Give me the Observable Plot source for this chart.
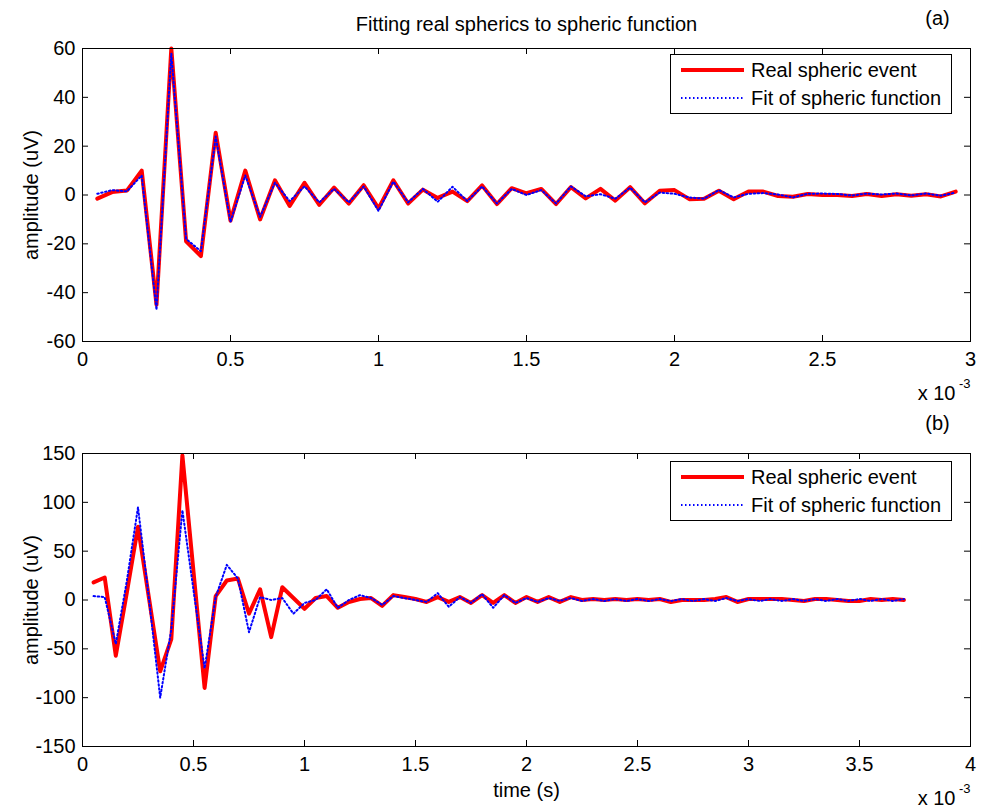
<!DOCTYPE html>
<html>
<head>
<meta charset="utf-8">
<script src="https://cdn.jsdelivr.net/npm/d3@7"></script>
<script src="https://cdn.jsdelivr.net/npm/@observablehq/plot@0.6"></script>
<style>
  html, body { margin: 0; padding: 0; background: #fff; }
  #root { position: relative; width: 981px; height: 811px; background: #fff; font-family: "Liberation Sans", Arial, sans-serif; overflow: hidden; }
  .panel { position: absolute; left: 0; }
  .legend { position: absolute; background: #fff; border: 1px solid #000; box-sizing: border-box; font-size: 20px; color: #000; }
  .legend .row { position: absolute; left: 0; height: 24px; width: 280px; white-space: nowrap; }
  .legend svg { position: absolute; left: 9px; top: 0; }
  .legend span { position: absolute; left: 80px; top: 0; line-height: 24px; }
</style>
</head>
<body>
<div id="root"></div>
<script>
// ---------- data (time in units of 1e-3 s) ----------
const tTop = [0.05,0.10,0.15,0.20,0.25,0.30,0.35,0.40,0.45,0.50,0.55,0.60,0.65,0.70,0.75,0.80,0.85,0.90,0.95,1.00,
  1.05,1.10,1.15,1.20,1.25,1.30,1.35,1.40,1.45,1.50,1.55,1.60,1.65,1.70,1.75,1.80,1.85,1.90,1.95,2.00,
  2.05,2.10,2.15,2.20,2.25,2.30,2.35,2.40,2.45,2.50,2.55,2.60,2.65,2.70,2.75,2.80,2.85,2.90,2.95];
const realTop = [-1.5,1.2,1.8,10,-45,60,-19,-25,25.5,-10.5,10,-10,6,-4.5,5,-4,3,-3.5,4,-5.5,
  6,-3.5,2.2,-1.2,1.4,-2.5,3.9,-3.7,2.8,0.7,2.5,-3.7,3.2,-1.4,2.5,-2.3,3.2,-3.4,1.7,2.0,
  -1.7,-1.5,1.7,-1.7,1.4,1.4,-0.4,-0.7,0.4,0,0,-0.4,0.4,-0.4,0.3,-0.3,0.3,-0.6,1.4];
const fitTop = [0.5,2,1.5,8,-47,58,-18,-23,24,-11,8,-9,5,-2.5,3.5,-3,2.5,-3,3.5,-6.5,
  5.5,-3,2.5,-2.8,3.4,-2.5,3.5,-3.5,2.5,0,2,-3.5,3.5,-0.5,0.3,-1.5,3,-3,1,0.5,
  -1,-1.5,2,-1,0.5,0.8,0.2,-1,0.5,0.6,0.4,-0.2,0.6,0.2,0.6,-0.2,0.6,-0.3,1];

const tBottom = [0.05,0.10,0.15,0.20,0.25,0.30,0.35,0.40,0.45,0.50,0.55,0.60,0.65,0.70,0.75,0.80,0.85,0.90,0.95,1.00,
  1.05,1.10,1.15,1.20,1.25,1.30,1.35,1.40,1.45,1.50,1.55,1.60,1.65,1.70,1.75,1.80,1.85,1.90,1.95,2.00,
  2.05,2.10,2.15,2.20,2.25,2.30,2.35,2.40,2.45,2.50,2.55,2.60,2.65,2.70,2.75,2.80,2.85,2.90,2.95,3.00,
  3.05,3.10,3.15,3.20,3.25,3.30,3.35,3.40,3.45,3.50,3.55,3.60,3.65,3.70];
const realBottom = [18,23,-57,8,75,1,-73,-40,148,29,-90,4,20,22,-14,11,-38,13,2,-9,
  2,4,-8,-2,1,2,-6,5,3,1,-2,3,-2,3,-3,5,-3,5,-3,3,
  -2,3,-2,3,0,1,0,1,0,1,0,1,-2,0,0,0,1,3,-2,1,
  1,1,1,0,-1,1,1,0,-1,-1,1,0,1,0];
const fitBottom = [4,3,-45,20,95,0,-100,-30,92,10,-70,3,36,22,-33,3,0,2,-14,-3,
  0,11,-8,0,5,2,-5,4,2,0,-2,7,-7,3,-3,6,-8,5,-3,2,
  -2,2,-1,2,-1,1,-1,1,-1,1,-1,1,-1,1,-1,1,-1,2,-1,1,
  -1,1,-1,1,-1,1,-1,1,-1,1,-1,1,-1,1];

const xTicksTop = [0,0.5,1,1.5,2,2.5,3];
const yTicksTop = [-60,-40,-20,0,20,40,60];
const xTicksBottom = [0,0.5,1,1.5,2,2.5,3,3.5,4];
const yTicksBottom = [-150,-100,-50,0,50,100,150];

const seriesNames = ["Real spheric event", "Fit of spheric function"];
const titleText = "Fitting real spherics to spheric function";
const yLabel = "amplitude (uV)";
const xLabel = "time (s)";

const RED = "#ff0000", BLUE = "#0000ff";
const DOTS = "1.5,2.5";
const FONT = "'Liberation Sans', Arial, sans-serif";
const FS = 20;

function panel({t, real, fit, xTicks, yTicks, xDomain, yDomain, height, tag, title, xlab}) {
  const W = 981, mL = 82, mR = 11, mT = 48, mB = height - 48 - 293;
  const pw = W - mL - mR, ph = height - mT - mB;
  const tickLen = 6;
  const fmt = d => String(d);
  const realData = t.map((x, i) => ({x, y: real[i]}));
  const fitData = t.map((x, i) => ({x, y: fit[i]}));
  const mid = {lineAnchor: "middle"};
  const marks = [
    Plot.line(realData, {x: "x", y: "y", stroke: RED, strokeWidth: 4, strokeLinejoin: "round", strokeLinecap: "round"}),
    Plot.line(fitData, {x: "x", y: "y", stroke: BLUE, strokeWidth: 2, strokeDasharray: DOTS}),
    Plot.frame({stroke: "#000", strokeWidth: 1}),
    // inward ticks on all four sides
    Plot.tickX(xTicks, {x: d => d, stroke: "#000", insetTop: ph - tickLen}),
    Plot.tickX(xTicks, {x: d => d, stroke: "#000", insetBottom: ph - tickLen}),
    Plot.tickY(yTicks, {y: d => d, stroke: "#000", insetRight: pw - tickLen}),
    Plot.tickY(yTicks, {y: d => d, stroke: "#000", insetLeft: pw - tickLen}),
    Plot.axisX(xTicks, {tickSize: 0, tickPadding: 10, tickFormat: fmt, label: null, fontSize: FS}),
    Plot.axisY(yTicks, {tickSize: 0, tickPadding: 7, tickFormat: fmt, label: null, fontSize: FS}),
    Plot.text([yLabel], {...mid, frameAnchor: "left", textAnchor: "middle", rotate: -90, dx: -51, fontSize: FS}),
    Plot.text([tag], {...mid, frameAnchor: "top-right", dx: -33, dy: -30, fontSize: FS, textAnchor: "middle"}),
    Plot.text(["x 10"], {...mid, frameAnchor: "bottom-right", dx: -15, dy: 52, fontSize: FS, textAnchor: "end"}),
    Plot.text(["-3"], {...mid, frameAnchor: "bottom-right", dx: 0, dy: 42, fontSize: 13, textAnchor: "end"})
  ];
  if (title) marks.push(Plot.text([title], {...mid, frameAnchor: "top", textAnchor: "middle", dy: -24, fontSize: FS}));
  if (xlab) marks.push(Plot.text([xlab], {...mid, frameAnchor: "bottom", textAnchor: "middle", dy: 44, fontSize: FS}));
  return Plot.plot({
    width: W, height,
    marginLeft: mL, marginRight: mR, marginTop: mT, marginBottom: mB,
    x: {domain: xDomain, axis: null},
    y: {domain: yDomain, axis: null},
    style: {fontFamily: FONT, fontSize: FS + "px", background: "transparent", color: "#000", overflow: "visible"},
    marks
  });
}

function legend(root, left, top) {
  const box = document.createElement("div");
  box.className = "legend";
  Object.assign(box.style, {left: left + "px", top: top + "px", width: "282px", height: "60px"});
  const styles = [
    {stroke: RED, width: 4, dash: null},
    {stroke: BLUE, width: 2, dash: DOTS}
  ];
  seriesNames.forEach((name, i) => {
    const row = document.createElement("div");
    row.className = "row";
    row.style.top = (3 + i * 28) + "px";
    const svg = d3.create("svg").attr("width", 66).attr("height", 24);
    svg.append("line").attr("x1", 1).attr("x2", 64).attr("y1", 12).attr("y2", 12)
      .attr("stroke", styles[i].stroke).attr("stroke-width", styles[i].width)
      .attr("stroke-dasharray", styles[i].dash);
    row.appendChild(svg.node());
    const span = document.createElement("span");
    span.textContent = name;
    row.appendChild(span);
    box.appendChild(row);
  });
  root.appendChild(box);
}

const root = document.getElementById("root");

const p1 = panel({t: tTop, real: realTop, fit: fitTop, xTicks: xTicksTop, yTicks: yTicksTop,
  xDomain: [0, 3], yDomain: [-60, 60], height: 405, tag: "(a)", title: titleText, xlab: null});
const d1 = document.createElement("div"); d1.className = "panel"; d1.style.top = "0px";
d1.appendChild(p1); root.appendChild(d1);

const p2 = panel({t: tBottom, real: realBottom, fit: fitBottom, xTicks: xTicksBottom, yTicks: yTicksBottom,
  xDomain: [0, 4], yDomain: [-150, 150], height: 406, tag: "(b)", title: null, xlab: xLabel});
const d2 = document.createElement("div"); d2.className = "panel"; d2.style.top = "405px";
d2.appendChild(p2); root.appendChild(d2);

legend(root, 670, 54);
legend(root, 670, 461);
</script>
</body>
</html>
